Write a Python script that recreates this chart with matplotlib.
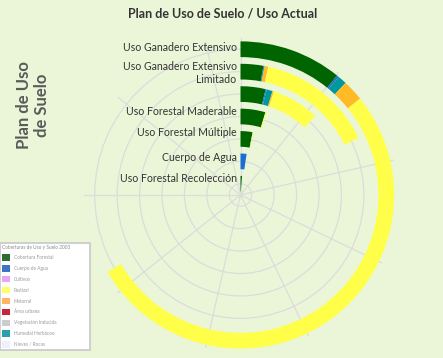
import matplotlib.pyplot as plt
import numpy as np
from matplotlib.patches import Patch

plt.rcParams['font.family'] = ['Lato', 'DejaVu Sans']

# planned land uses, outermost ring first
usos = ['Uso Ganadero Extensivo', 'Uso Ganadero Extensivo\nLimitado', '',
        'Uso Forestal Maderable', 'Uso Forestal Múltiple', 'Cuerpo de Agua',
        'Uso Forestal Recolección']

# current cover inside each planned use (ha)
forestal = [3030, 785, 1040, 1305, 850, 0, 350]
agua = [60, 25, 45, 0, 0, 660, 0]
humedal = [265, 15, 250, 0, 0, 0, 0]
matorral = [620, 125, 55, 0, 0, 0, 0]
pastizal = [14690, 4045, 1990, 55, 40, 0, 0]

# angular scale: full turn and gridline step
vuelta = 28000
paso = 3000

# legend entries of the cover map
leyenda_titulo = 'Coberturas de Uso y Suelo 2003'
leyenda = ['Cobertura Forestal', 'Cuerpo de Agua', 'Cultivos', 'Pastizal', 'Matorral',
           'Área urbana', 'Vegetación Inducida', 'Humedal Herbáceo', 'Nieves / Rocas']
leyenda_colores = ['#2e6e30', '#3d74c4', '#e9a6ee', '#ffff66', '#ffb565',
                   '#c8243c', '#cccccc', '#2aa0ac', '#eef0ff']

fondo = '#ebf6d8'
fig = plt.figure(figsize=(4.43, 3.58), dpi=100, facecolor=fondo)
ax = fig.add_axes([0.1885, 0.0168, 0.7088, 0.877], projection='polar')
ax.set_facecolor('none')
ax.set_theta_zero_location('N')
ax.set_theta_direction(-1)
ax.set_ylim(0, 7)
ax.spines['polar'].set_visible(False)

pos = 6.5 - np.arange(len(usos))
ax.set_yticks(pos)
ax.set_yticklabels([])
ax.set_xticks(np.arange(0, vuelta, paso) / vuelta * 2 * np.pi)
ax.set_xticklabels([])
ax.grid(color='#dcdcdc', lw=0.9)
ax.set_axisbelow(True)

series = [(forestal, '#006400'), (agua, '#1a6fd0'), (humedal, '#00979e'),
          (matorral, '#ffba26'), (pastizal, '#ffff4a')]
left = np.zeros(len(usos))
for vals, color in series:
    th = np.array(vals) / vuelta * 2 * np.pi
    ax.barh(pos, th, left=left, height=0.7, color=color, lw=0)
    left += th

offs = [2, -1, 0, 5, 6, 4, 5]
for txt, p, dy in zip(usos, pos, offs):
    if txt:
        ax.annotate(txt, xy=(0, p), xytext=(-4, dy), textcoords='offset pixels',
                    ha='right', va='center', multialignment='right',
                    fontsize=7.6, color='#333333', annotation_clip=False)

fig.text(223 / 443, 1 - 13 / 358, 'Plan de Uso de Suelo / Uso Actual',
         ha='center', va='center', fontsize=9, fontweight='bold', color='#333333')
fig.text(33 / 443, 1 - 105 / 358, 'Plan de Uso\nde Suelo', rotation=90,
         ha='center', va='center', multialignment='center', linespacing=1.1,
         fontsize=12, fontweight='bold', color='#5a5a5a')

handles = [Patch(facecolor=c, edgecolor='none') for c in leyenda_colores]
leg = fig.legend(handles, leyenda, loc='upper left', mode='expand',
                 bbox_to_anchor=(0, 0, 90 / 443, 1 - 243 / 358),
                 title=leyenda_titulo, title_fontsize=3.4, fontsize=3.4,
                 handlelength=1.7, handleheight=1.7, labelspacing=0.95,
                 borderaxespad=0, fancybox=False, framealpha=1,
                 edgecolor='#c8c8c8')
leg.get_frame().set_linewidth(1.2)
plt.setp(leg.get_texts(), color='#9a9a9a')
leg.get_title().set_color('#8a8a8a')
leg._legend_box.align = 'left'

fig.savefig('out.png', dpi=100, facecolor=fondo)
